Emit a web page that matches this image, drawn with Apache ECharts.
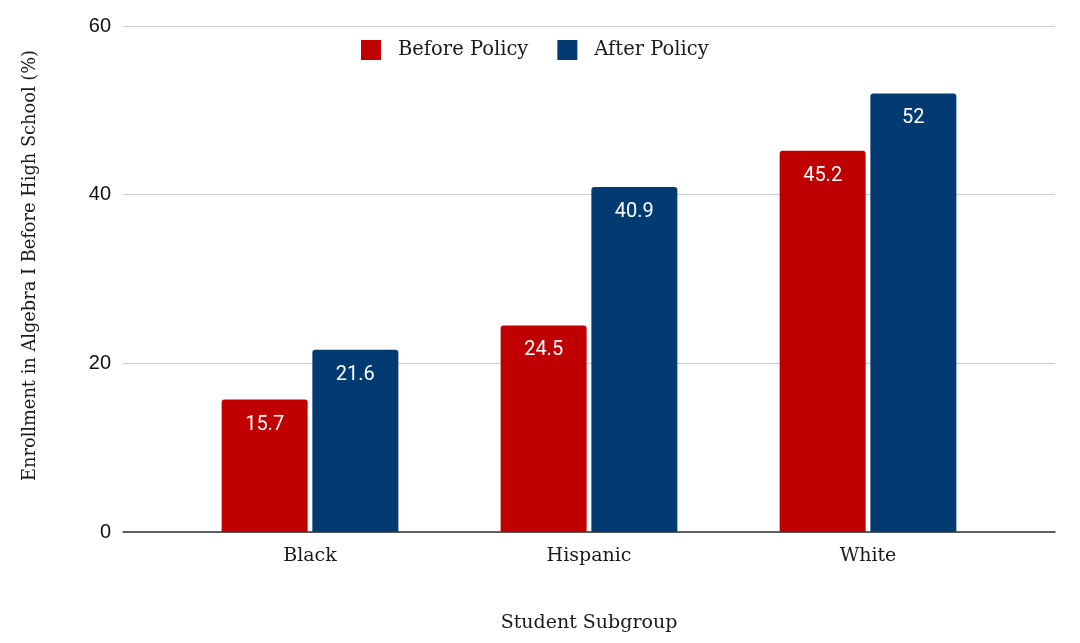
<!DOCTYPE html>
<html><head><meta charset="utf-8">
<script src="https://cdn.jsdelivr.net/npm/echarts@6/dist/echarts.min.js"></script>
<style>html,body{margin:0;padding:0;background:#fff}#c{width:1080px;height:643px}</style>
</head><body><div id="c"></div>
<script>
const categories = ['Black', 'Hispanic', 'White'];
const beforePolicy = [15.7, 24.5, 45.2];
const afterPolicy = [21.6, 40.9, 52];
const yTicks = [0, 20, 40, 60];
const seriesNames = ['Before Policy', 'After Policy'];

const serif = 'DejaVu Serif';
const chart = echarts.init(document.getElementById('c'), null, {renderer: 'canvas'});
const labelCfg = {show: true, position: 'insideTop', distance: 15, color: '#fff', fontFamily: 'Roboto', fontSize: 20};
chart.setOption({
  animation: false,
  legend: {
    data: seriesNames, top: 40, left: 361, padding: 0, itemWidth: 20, itemHeight: 20, itemGap: 29,
    icon: 'rect',
    textStyle: {fontFamily: serif, fontSize: 19.5, color: '#1a1a1a', padding: [0, 0, 0, 12]}
  },
  grid: [
    {left: 123, right: 25, top: 26, bottom: 111, containLabel: false, outerBoundsMode: 'none'},
    {left: 170.5, right: 72.5, top: 26, bottom: 111, containLabel: false, outerBoundsMode: 'none'}
  ],
  xAxis: [
    {type: 'category', gridIndex: 0, data: categories, axisLine: {lineStyle: {color: '#333', width: 1.5}}, axisTick: {show: false}, axisLabel: {show: false},
     name: 'Student Subgroup', nameLocation: 'middle', nameGap: 82, nameTextStyle: {fontFamily: serif, fontSize: 19, color: '#1a1a1a'}},
    {type: 'category', gridIndex: 1, data: categories, axisLine: {show: false}, axisTick: {show: false},
     axisLabel: {fontFamily: serif, fontSize: 19, color: '#1a1a1a', margin: 15}}
  ],
  yAxis: [
    {type: 'value', gridIndex: 0, min: yTicks[0], max: yTicks[yTicks.length - 1], interval: 20,
     axisLine: {show: false}, axisTick: {show: false},
     axisLabel: {fontFamily: 'Liberation Sans', fontSize: 20, color: '#111', margin: 12},
     splitLine: {lineStyle: {color: '#cccccc', width: 1}},
     name: 'Enrollment in Algebra I Before High School (%)', nameLocation: 'middle', nameGap: 84, nameRotate: 90,
     nameTextStyle: {fontFamily: serif, fontSize: 17.8, color: '#1a1a1a', padding: [0, 0, 0, 27]}},
    {type: 'value', gridIndex: 1, min: 0, max: 60, interval: 20, show: false, splitLine: {show: false}}
  ],
  series: [
    {name: seriesNames[0], type: 'bar', xAxisIndex: 1, yAxisIndex: 1, data: beforePolicy, barWidth: 86, barGap: '5.5%',
     itemStyle: {color: '#c00000', borderRadius: [3, 3, 0, 0]}, label: labelCfg},
    {name: seriesNames[1], type: 'bar', xAxisIndex: 1, yAxisIndex: 1, data: afterPolicy, barWidth: 86, barGap: '5.5%',
     itemStyle: {color: '#023b71', borderRadius: [3, 3, 0, 0]}, label: labelCfg}
  ]
});
</script></body></html>
